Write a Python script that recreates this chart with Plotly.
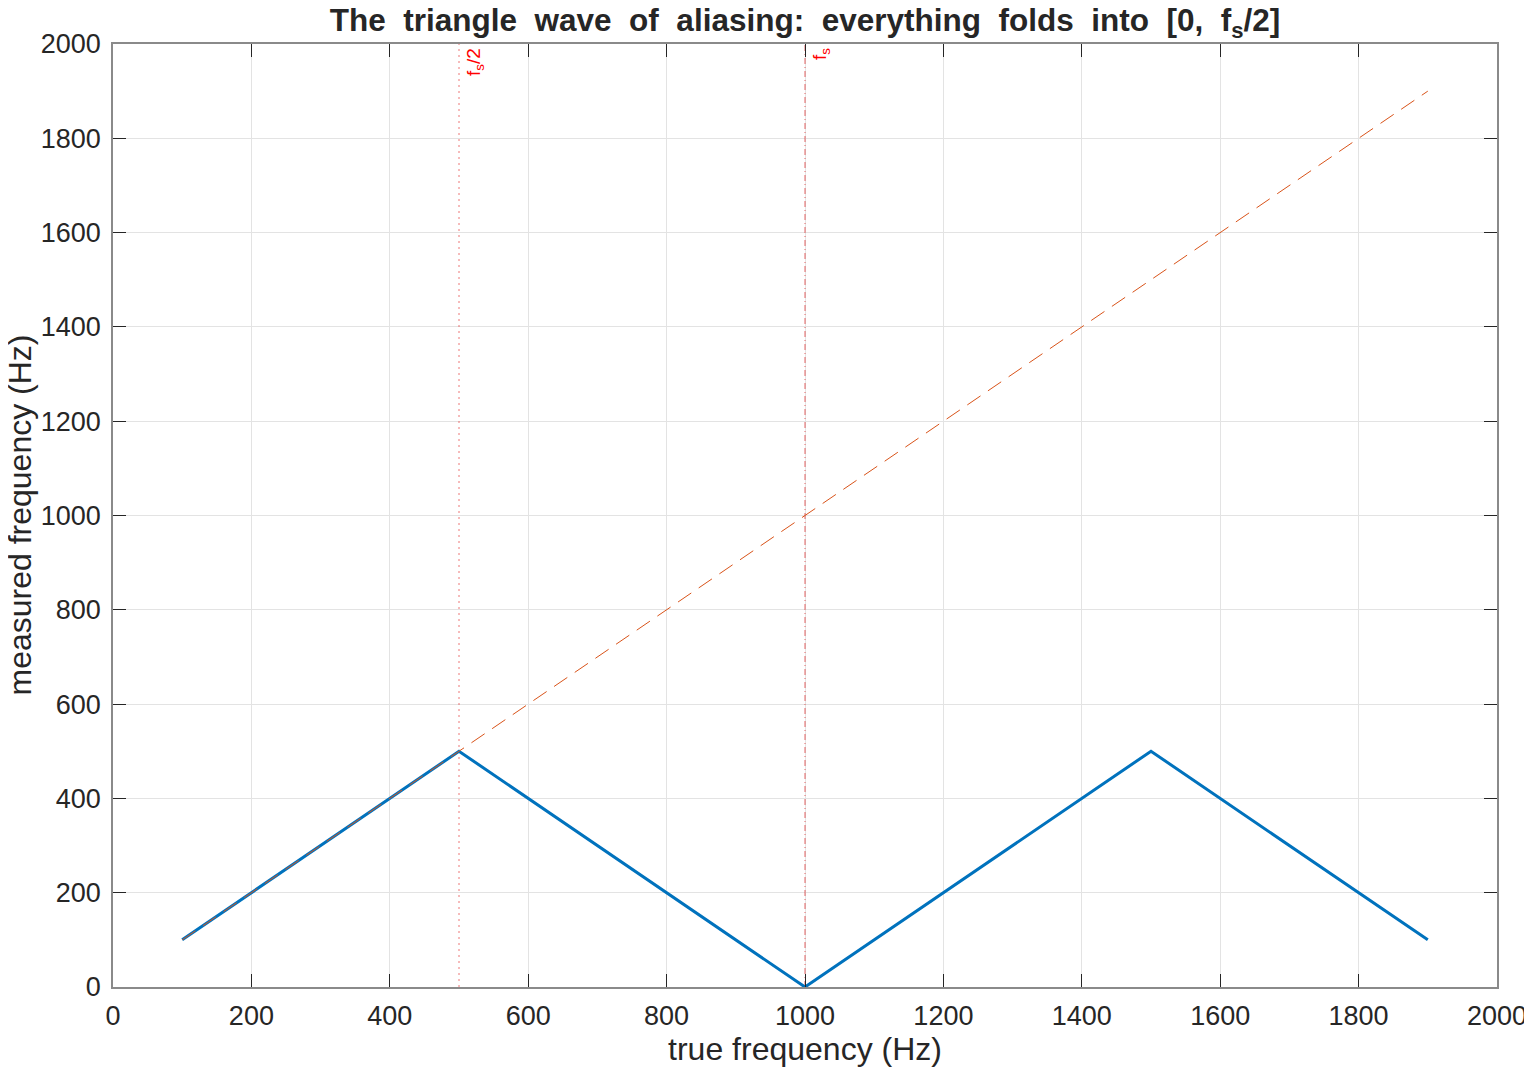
"""
Aliasing triangle wave: true frequency vs measured (folded) frequency.
"""

import plotly.graph_objects as go

fs = 1000
true_freq = [100, 500, 1000, 1500, 1900]
measured_freq = [100, 500, 0, 500, 100]
ideal_x = [100, 1900]
ideal_y = [100, 1900]

x_ticks = [0, 200, 400, 600, 800, 1000, 1200, 1400, 1600, 1800, 2000]
y_ticks = [0, 200, 400, 600, 800, 1000, 1200, 1400, 1600, 1800, 2000]

FONT = "Liberation Sans, Arial, Helvetica, sans-serif"
TXT = "#262626"

fig = go.Figure()

# reference lines at fs/2 and fs
fig.add_trace(
    go.Scatter(
        x=[fs / 2, fs / 2],
        y=[0, 2000],
        mode="lines",
        line=dict(color="rgba(230,60,60,0.7)", width=1, dash="2px,4px"),
        showlegend=False,
        hoverinfo="skip",
    )
)
fig.add_trace(
    go.Scatter(
        x=[fs, fs],
        y=[0, 2000],
        mode="lines",
        line=dict(color="rgba(220,50,50,0.75)", width=1, dash="6px,3px,1px,3px"),
        showlegend=False,
        hoverinfo="skip",
    )
)

fig.add_trace(
    go.Scatter(
        x=true_freq,
        y=measured_freq,
        mode="lines",
        line=dict(color="#0072BD", width=3),
        showlegend=False,
    )
)
fig.add_trace(
    go.Scatter(
        x=ideal_x,
        y=ideal_y,
        mode="lines",
        line=dict(color="#D95319", width=1, dash="16px,9px"),
        showlegend=False,
    )
)

for xv, label in [(fs / 2, "f<sub>s</sub>/2"), (fs, "f<sub>s</sub>")]:
    fig.add_annotation(
        x=xv,
        y=2000,
        xref="x",
        yref="y",
        text=label,
        textangle=-90,
        showarrow=False,
        xanchor="left",
        yanchor="top",
        xshift=2,
        yshift=-2,
        font=dict(family=FONT, size=19, color="#ff0000"),
    )

# y-axis title as a rotated annotation (fixed position left of the tick labels)
fig.add_annotation(
    x=0,
    y=0.5,
    xref="paper",
    yref="paper",
    text="measured frequency (Hz)",
    textangle=-90,
    showarrow=False,
    xanchor="center",
    yanchor="middle",
    xshift=-94,
    font=dict(family=FONT, size=32, color=TXT),
)

axis_common = dict(
    showgrid=True,
    gridcolor="#e3e3e3",
    gridwidth=1,
    zeroline=False,
    showline=True,
    linecolor="#8a8a8a",
    linewidth=1.5,
    mirror="ticks",
    ticks="inside",
    ticklen=13,
    tickcolor="#262626",
    tickwidth=1.2,
    automargin=False,
    tickfont=dict(family=FONT, size=27, color=TXT),
)

fig.update_layout(
    width=1524,
    height=1063,
    margin=dict(l=105, r=35, t=36, b=84),
    paper_bgcolor="white",
    plot_bgcolor="white",
    title=dict(
        text="<b>The  triangle  wave  of  aliasing:  everything  folds  into  [0,  f<sub>s</sub>/2]</b>",
        x=0.5,
        xref="paper",
        xanchor="center",
        y=1.0,
        yref="container",
        yanchor="top",
        pad=dict(t=1),
        font=dict(family=FONT, size=31.5, color=TXT),
    ),
    xaxis=dict(
        axis_common,
        range=[0, 2000],
        tickvals=x_ticks,
        ticklabelstandoff=4,
        title=dict(text="true frequency (Hz)", font=dict(family=FONT, size=32, color=TXT), standoff=6),
    ),
    yaxis=dict(
        axis_common,
        range=[0, 2000],
        tickvals=y_ticks,
        ticklabelstandoff=5,
    ),
)

fig.write_html("out.html")
